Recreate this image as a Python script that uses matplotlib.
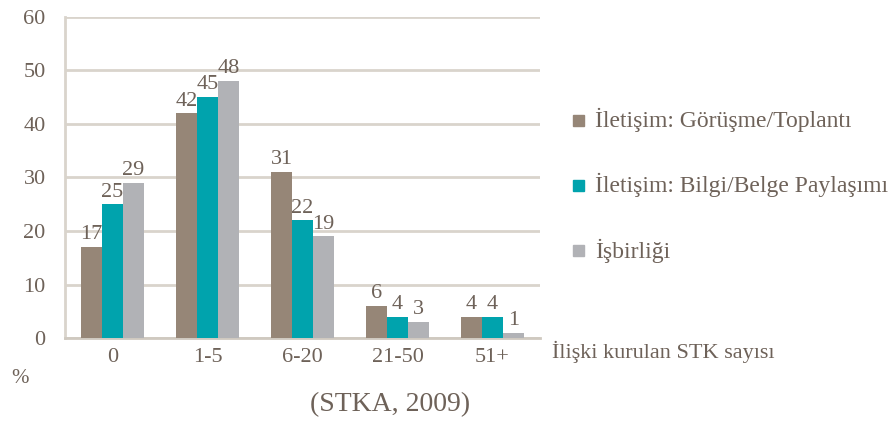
import numpy as np
import matplotlib.pyplot as plt
from matplotlib.patches import Rectangle

plt.rcParams['font.family'] = ['Liberation Serif', 'DejaVu Serif']

categories = ['0', '1-5', '6-20', '21-50', '51+']
series_names = ['İletişim: Görüşme/Toplantı', 'İletişim: Bilgi/Belge Paylaşımı', 'İşbirliği']
gorusme = [17, 42, 31, 6, 4]
bilgi = [25, 45, 22, 4, 4]
isbirligi = [29, 48, 19, 3, 1]

colors = ['#968677', '#00a3ad', '#b1b2b6']
text_color = '#6e6259'
grid_color = '#d9d4cc'

fig = plt.figure(figsize=(8.91, 4.21), dpi=100)
ax = fig.add_axes([0.073, 0.197, 0.533, 0.763])

x = np.arange(len(categories))
width = 0.22
for i, (vals, col) in enumerate(zip([gorusme, bilgi, isbirligi], colors)):
    pos = x + (i - 1) * width
    bars = ax.bar(pos, vals, width, color=col, zorder=3)
    for b, v in zip(bars, vals):
        ax.text(b.get_x() + b.get_width() / 2, v + 0.5, str(v), ha='center', va='bottom',
                fontsize=16, color=text_color)

ax.set_xlim(-0.5, 4.5)
ax.set_ylim(0, 60)
ax.set_yticks(range(0, 61, 10))
ax.set_xticks(x)
ax.set_xticklabels(categories)
ax.yaxis.grid(True, color=grid_color, linewidth=2, zorder=0)
for s in ['top', 'right']:
    ax.spines[s].set_visible(False)
ax.spines['left'].set_color(grid_color)
ax.spines['left'].set_linewidth(2)
ax.spines['bottom'].set_color('#cfc9c0')
ax.spines['bottom'].set_linewidth(2)
ax.tick_params(length=0, labelsize=16, colors=text_color, pad=7)
ax.tick_params(axis='y', pad=14)

# legend drawn by hand
ys = [0.715, 0.56, 0.405]
for name, col, y in zip(series_names, colors, ys):
    fig.patches.append(Rectangle((0.643, y - 0.014), 0.0125, 0.027, transform=fig.transFigure,
                                 color=col, figure=fig))
    fig.text(0.668, y, name, fontsize=17, color=text_color, va='center')

fig.text(0.62, 0.163, 'İlişki kurulan STK sayısı', fontsize=16, color=text_color, va='center')
fig.text(0.013, 0.1, '%', fontsize=15, color=text_color, va='center')
fig.text(0.438, 0.04, '(STKA, 2009)', fontsize=20, color=text_color, ha='center', va='center')

fig.savefig('out.png', dpi=100)
